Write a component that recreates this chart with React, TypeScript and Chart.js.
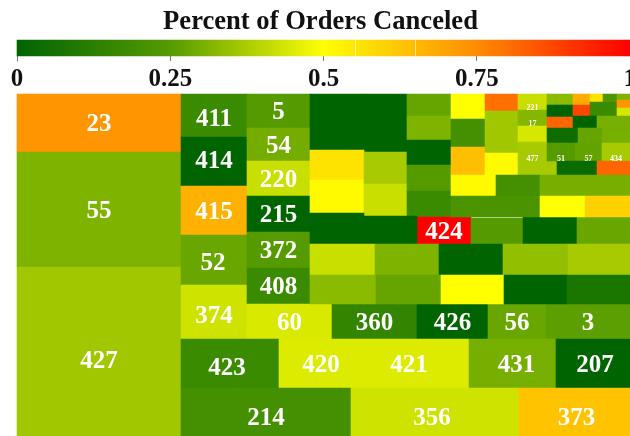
import React, { useEffect, useRef } from "react";
import { Chart, DatasetController, registerables } from "chart.js";

Chart.register(...registerables);

const chartTitle = "Percent of Orders Canceled";
const legendTicks = [0, 0.25, 0.5, 0.75, 1];
const colorStopValues = [0, 0.25, 0.375, 0.5, 0.75, 1];
const colorStopColors = [[0, 100, 0], [85, 155, 0], [170, 205, 0], [255, 255, 0], [255, 140, 0], [255, 0, 0]];
const legendBlockStart = [0, 0.553, 0.651];
const legendBlockEnd = [0.551, 0.649, 1];

const cellIds = [
  "23", "55", "427", "411", "414", "415", "52", "374", "5", "54", "220", "215", "372", "408",
  "60", "360", "426", "56", "3", "423", "420", "421", "431", "207", "214", "356", "373",
  "", "", "", "", "", "", "", "", "", "", "", "", "",
  "424", "", "", "", "", "", "", "", "", "", "", "", "", "",
  "", "", "", "", "",
  "", "", "", "221", "17", "",
  "", "", "", "", "", "", "", "", "", "", "", "",
  "", "", "", "", "", "477", "51", "57", "434", "", "", "", "",
  "", "", "", "",
];
const cellLeft = [
  17, 17, 17, 181, 181, 181, 181, 181, 247, 247, 247, 247, 247, 247,
  247, 332, 417, 488, 546, 181, 279, 363, 469, 556, 181, 351, 519,
  310, 310, 364, 407, 407, 310, 310, 364, 364, 407, 407, 407, 310,
  417, 364, 471, 523, 577, 310, 375, 439, 503, 568, 310, 376, 441, 504,
  567, 451, 451, 451, 451,
  485, 485, 485, 518, 518, 518,
  518, 547, 573, 590, 603, 617, 547, 573, 590, 617, 617, 547,
  573, 597, 547, 578, 602, 518, 547, 575, 602, 557, 597, 496, 540,
  451, 496, 540, 585,
];
const cellRight = [
  181, 181, 181, 247, 247, 247, 247, 247, 310, 310, 310, 310, 310, 310,
  332, 417, 488, 546, 630, 279, 363, 469, 556, 630, 351, 519, 630,
  364, 364, 407, 451, 451, 364, 364, 407, 407, 451, 451, 451, 364,
  471, 417, 523, 577, 630, 375, 439, 503, 568, 630, 376, 441, 504, 567,
  630, 485, 485, 485, 496,
  518, 518, 518, 547, 547, 547,
  557, 573, 590, 603, 617, 630, 573, 590, 617, 630, 630, 573,
  597, 630, 578, 602, 630, 547, 575, 602, 630, 597, 630, 540, 630,
  496, 540, 585, 630,
];
const cellTop = [
  94, 152, 267, 94, 137, 186, 235, 285, 94, 128, 161, 196, 232, 268,
  304, 304, 304, 304, 304, 339, 339, 339, 339, 339, 388, 388, 388,
  94, 121, 94, 94, 116, 150, 180, 152, 184, 140, 165, 191, 213,
  217, 216, 218, 217, 217, 244, 244, 244, 244, 244, 275, 275, 275, 275,
  275, 94, 119, 147, 175,
  94, 111, 153, 94, 110, 126,
  161, 94, 94, 94, 94, 94, 105, 105, 102, 100, 108, 117,
  116, 116, 128, 128, 133, 142, 143, 143, 143, 161, 161, 175, 175,
  196, 196, 196, 196,
];
const cellBottom = [
  152, 267, 453, 137, 186, 235, 285, 339, 128, 161, 196, 232, 268, 304,
  339, 339, 339, 339, 339, 388, 388, 388, 388, 388, 446, 446, 446,
  121, 150, 152, 116, 140, 180, 213, 184, 216, 165, 191, 217, 244,
  244, 244, 244, 244, 244, 275, 275, 275, 275, 275, 304, 304, 304, 304,
  304, 119, 147, 175, 196,
  111, 153, 175, 110, 126, 142,
  175, 105, 105, 102, 102, 100, 117, 116, 116, 108, 116, 128,
  128, 133, 143, 143, 143, 161, 161, 161, 161, 175, 175, 196, 196,
  217, 217, 217, 217,
];
const cellCanceled = [
  0.73, 0.31, 0.36, 0.175, 0, 0.67, 0.28, 0.43, 0.25, 0.295, 0.42, 0, 0.25, 0.175,
  0.445, 0.15, 0, 0.28, 0.26, 0.175, 0.45, 0.45, 0.3, 0, 0.2, 0.43, 0.63,
  0, 0, 0, 0.275, 0.31, 0.56, 0.51, 0.37, 0.42, 0, 0.25, 0.175, 0,
  1, 0, 0.25, 0, 0.28, 0.42, 0.31, 0, 0.34, 0.37, 0.33, 0.275, 0.5, 0,
  0.08, 0.5, 0.2, 0.64, 0.51,
  0.8, 0.36, 0.51, 0.42, 0.32, 0.44,
  0.37, 0.33, 0.68, 0.56, 0.23, 0.31, 0, 0.875, 0.175, 0.73, 0.44, 0.82,
  0, 0.3, 0.04, 0.275, 0.3, 0.37, 0.25, 0.27, 0.37, 0.03, 0.82, 0.2, 0.3,
  0.22, 0.22, 0.5, 0.6,
];
const labelNudgeIds = ["421", "431", "423", "207", "356", "373", "374", "52", "411", "414"];
const labelNudgeX = [-7, 4, -3, 2, -3, 2, 0, -1, 0, 0];
const labelNudgeY = [0, 0, 3, 0, 0, 0, 3, 2, 2, -2];

const legendCells = legendBlockStart.map((left, i) => ({
  left,
  right: legendBlockEnd[i],
  top: 40,
  bottom: 56,
  canceled: -1,
  id: "",
}));
const treemapCells = cellIds.map((id, i) => ({
  id,
  left: cellLeft[i],
  right: cellRight[i],
  top: cellTop[i],
  bottom: cellBottom[i],
  canceled: cellCanceled[i],
}));

function colorFor(v: number) {
  let i = 0;
  while (i < colorStopValues.length - 2 && v > colorStopValues[i + 1]) i++;
  const t = (v - colorStopValues[i]) / (colorStopValues[i + 1] - colorStopValues[i]);
  const a = colorStopColors[i];
  const b = colorStopColors[i + 1];
  return `rgb(${a.map((c, k) => Math.round(c + (b[k] - c) * t)).join(",")})`;
}

class CellController extends DatasetController {
  static id = "cell";
  static defaults = { dataElementType: "bar", datasetElementType: false };
  update(mode: any) {
    const rects = (this as any)._cachedMeta.data;
    this.updateElements(rects, 0, rects.length, mode);
  }
  updateElements(rects: any[], start: number, count: number, mode: any) {
    const meta = (this as any)._cachedMeta;
    const data = (this as any).getDataset().data;
    for (let i = start; i < start + count; i++) {
      const cell = data[i];
      const l = meta.xScale.getPixelForValue(cell.left);
      const r = meta.xScale.getPixelForValue(cell.right);
      const t = meta.yScale.getPixelForValue(cell.top);
      const b = meta.yScale.getPixelForValue(cell.bottom);
      (this as any).updateElement(
        rects[i],
        i,
        {
          x: (l + r) / 2,
          y: t,
          base: b,
          width: r - l,
          horizontal: false,
          borderSkipped: {},
          enableBorderRadius: false,
          inflateAmount: 0.3,
          options: (this as any).resolveDataElementOptions(i, mode),
        },
        mode
      );
    }
  }
}
Chart.register(CellController as any);

const cellLabels = {
  id: "cellLabels",
  afterLayout(chart: any) {
    chart.titleBlock.left -= 3;
    chart.titleBlock.right -= 3;
  },
  afterDatasetsDraw(chart: any) {
    const { ctx } = chart;
    const meta = chart.getDatasetMeta(1);
    ctx.save();
    ctx.fillStyle = "#ffffff";
    ctx.textAlign = "center";
    treemapCells.forEach((cell, i) => {
      if (!cell.id) return;
      const el = meta.data[i];
      const small = el.width < 45;
      const n = labelNudgeIds.indexOf(cell.id);
      ctx.font = `bold ${small ? 8 : 25}px "Liberation Serif"`;
      ctx.textBaseline = small ? "bottom" : "middle";
      ctx.fillText(
        cell.id,
        el.x + (n >= 0 ? labelNudgeX[n] : 0),
        (small ? el.base + 2 : (el.y + el.base) / 2 + 2) + (n >= 0 ? labelNudgeY[n] : 0)
      );
    });
    ctx.restore();
  },
};

export default function App() {
  const ref = useRef<HTMLCanvasElement>(null);
  useEffect(() => {
    document.body.style.margin = "0";
    const chart = new Chart(ref.current as any, {
      type: "cell" as any,
      plugins: [cellLabels],
      data: {
        datasets: [
          {
            label: "Legend",
            data: legendCells,
            parsing: false,
            xAxisID: "x",
            yAxisID: "y",
            backgroundColor: (c: any) => {
              const { ctx, chartArea, scales } = c.chart;
              if (!chartArea) return "#000";
              const g = ctx.createLinearGradient(scales.x.left, 0, scales.x.right, 0);
              colorStopValues.forEach((v) => g.addColorStop(v, colorFor(v)));
              return g;
            },
          },
          {
            label: "Orders canceled",
            data: treemapCells,
            parsing: false,
            xAxisID: "x2",
            yAxisID: "y",
            backgroundColor: (c: any) => colorFor(c.raw ? c.raw.canceled : 0),
          },
        ] as any,
      },
      options: {
        responsive: false,
        animation: false,
        layout: { padding: { left: 17, right: 0, top: 0, bottom: 0 } },
        plugins: {
          legend: { display: false },
          tooltip: { enabled: false },
          title: {
            display: true,
            text: chartTitle,
            color: "#111",
            fullSize: false,
            font: { family: "Liberation Serif", size: 26.6, weight: "bold" },
            padding: { top: 6.5, bottom: 1.6 },
          },
        },
        scales: {
          x: {
            type: "linear",
            min: 0,
            max: 1,
            position: { y: 56 } as any,
            afterFit(scale: any) {
              scale.paddingLeft = 0;
              scale.paddingRight = 0;
            },
            afterBuildTicks(scale: any) {
              scale.ticks = legendTicks.map((value) => ({ value }));
            },
            border: { display: false },
            grid: { drawOnChartArea: false, color: "#777", tickLength: 5 },
            ticks: {
              color: "#111",
              padding: 4,
              maxRotation: 0,
              autoSkip: false,
              font: { family: "Liberation Serif", size: 25, weight: "bold" },
              callback: (v: any) => String(v),
            },
          },
          x2: { type: "linear", axis: "x", min: 17, max: 630, display: false },
          y: { type: "linear", min: 40, max: 436, reverse: true, display: false },
        } as any,
      },
    });
    return () => chart.destroy();
  }, []);
  return (
    <canvas
      ref={ref}
      width={630}
      height={436}
      style={{ display: "block", filter: "blur(0.5px)" }}
    />
  );
}
